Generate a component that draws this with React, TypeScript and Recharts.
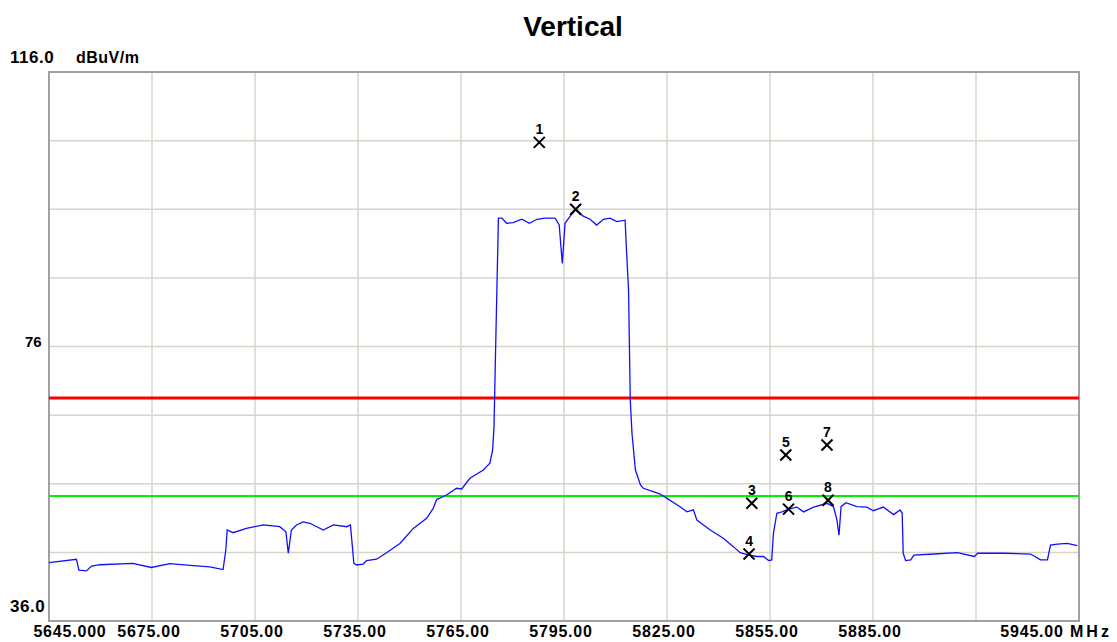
import React from 'react';
import {
  ComposedChart,
  Line,
  Scatter,
  XAxis,
  YAxis,
  CartesianGrid,
  ReferenceLine,
  ReferenceArea,
} from 'recharts';

const FONT = '"Liberation Sans", Arial, sans-serif';

// spectrum trace (MHz / dBuV/m)
const traceFreq = [
  5645.0, 5653.0, 5653.7, 5655.9, 5657.4, 5659.8, 5669.4, 5674.8, 5680.2, 5687.0,
  5691.8, 5695.7, 5696.5, 5696.9, 5698.6, 5702.5, 5707.4, 5712.2, 5714.0, 5714.7,
  5715.6, 5717.1, 5719.0, 5721.0, 5724.9, 5727.8, 5731.7, 5732.8, 5733.8, 5734.6,
  5736.5, 5737.5, 5740.4, 5743.3, 5747.2, 5751.1, 5755.0, 5756.9, 5757.9, 5760.8,
  5763.7, 5765.2, 5767.6, 5771.5, 5773.4, 5774.2, 5774.6, 5775.2, 5775.9, 5776.9,
  5778.3, 5780.2, 5782.7, 5784.9, 5787.1, 5789.5, 5792.4, 5793.6, 5794.5, 5795.3,
  5796.8, 5798.4, 5800.6, 5802.6, 5804.5, 5806.5, 5808.4, 5810.4, 5812.8, 5813.1,
  5813.8, 5814.3, 5814.8, 5815.8, 5817.3, 5818.1, 5821.0, 5823.0, 5824.9, 5828.8,
  5830.8, 5832.7, 5833.7, 5837.6, 5841.4, 5844.4, 5846.3, 5848.9, 5851.2, 5853.1,
  5854.6, 5855.5, 5856.0, 5857.0, 5858.5, 5860.4, 5862.8, 5864.8, 5867.7, 5871.6,
  5873.5, 5874.5, 5875.1, 5875.7, 5877.1, 5880.3, 5883.2, 5885.1, 5888.0, 5891.0,
  5892.9, 5893.5, 5893.8, 5894.5, 5896.0, 5896.9, 5902.8, 5909.6, 5914.5, 5915.5,
  5923.2, 5930.9, 5933.8, 5935.8, 5936.7, 5938.7, 5941.6, 5944.5,
];
const traceLevel = [
  44.5, 45.0, 43.4, 43.3, 44.0, 44.2, 44.4, 43.8, 44.35, 44.06,
  43.9, 43.5, 46.35, 49.26, 48.87, 49.5, 50.0, 49.74, 49.0, 45.87,
  49.26, 50.0, 50.43, 50.24, 49.26, 50.0, 49.74, 50.0, 44.4, 44.16,
  44.3, 44.8, 45.0, 45.95, 47.3, 49.5, 50.97, 52.4, 53.7, 54.36,
  55.34, 55.24, 56.8, 58.0, 59.0, 60.9, 64.1, 78.4, 94.7, 94.7,
  93.95, 94.04, 94.54, 93.95, 94.54, 94.7, 94.7, 93.7, 88.1, 93.95,
  95.0, 95.9, 95.0, 94.54, 93.7, 94.54, 94.7, 94.2, 94.4, 91.1,
  84.2, 68.2, 63.35, 58.0, 55.8, 55.34, 54.84, 54.5, 53.9, 52.66,
  51.9, 52.2, 50.7, 49.26, 48.05, 46.8, 45.95, 45.6, 45.4, 45.4,
  44.8, 44.9, 48.8, 51.7, 51.9, 52.3, 52.6, 51.9, 52.6, 53.15,
  52.66, 50.7, 48.5, 52.66, 53.24, 52.66, 52.6, 52.07, 52.6, 51.5,
  52.17, 51.7, 45.87, 44.8, 44.9, 45.6, 45.76, 45.95, 45.4, 45.87,
  45.87, 45.76, 44.9, 44.9, 47.07, 47.2, 47.3, 46.97,
];

// numbered markers
const markerFreq = [5787.8, 5798.4, 5849.7, 5848.9, 5859.6, 5860.4, 5871.6, 5871.9];
const markerLevel = [105.75, 96.0, 53.15, 45.76, 60.2, 52.3, 61.65, 53.6];
const markerLabel = ['1', '2', '3', '4', '5', '6', '7', '8'];

// limit lines
const limitRed = 68.5;
const limitGreen = 54.2;

const xTicks = [5645, 5675, 5705, 5735, 5765, 5795, 5825, 5855, 5885, 5915, 5945];
const yTicks = [36, 46, 56, 66, 76, 86, 96, 106, 116];

const traceData = traceFreq.map((f, i) => ({ f, v: traceLevel[i] }));
const markerData = markerFreq.map((f, i) => ({ f, v: markerLevel[i], label: markerLabel[i] }));

const labelStyle = { fontFamily: FONT, fontWeight: 700, fill: '#000' };

const XTick = (props: any) => {
  const { x, y, payload } = props;
  const v = payload.value as number;
  if (v === 5915) return <g />;
  let text = v.toFixed(2);
  let dx = -3;
  if (v === 5645) {
    text = v.toFixed(3);
    dx = 21;
  }
  if (v === 5945) dx = -47;
  return (
    <g>
      <text x={x + dx} y={y + 16} textAnchor="middle" fontSize={16} letterSpacing={0.8} {...labelStyle}>
        {text}
      </text>
      {v === 5945 && (
        <text x={x - 9} y={y + 16} textAnchor="start" fontSize={16} letterSpacing={3} {...labelStyle}>
          MHz
        </text>
      )}
    </g>
  );
};

const YTick = (props: any) => {
  const { y, payload } = props;
  const v = payload.value as number;
  if (v === 116) {
    return (
      <g>
        <text x={10} y={y - 9} fontSize={17} letterSpacing={0.5} {...labelStyle}>116.0</text>
        <text x={76} y={y - 9} fontSize={16} letterSpacing={0.5} {...labelStyle}>dBuV/m</text>
      </g>
    );
  }
  if (v === 76) {
    return <text x={25} y={y} fontSize={15} {...labelStyle}>76</text>;
  }
  if (v === 36) {
    return <text x={10} y={y - 9} fontSize={17} letterSpacing={0.5} {...labelStyle}>36.0</text>;
  }
  return <g />;
};

const MarkerShape = (props: any) => {
  const { cx, cy, payload } = props;
  const s = 5.5;
  return (
    <g>
      <line x1={cx - s} y1={cy - s} x2={cx + s} y2={cy + s} stroke="#000" strokeWidth={2} />
      <line x1={cx - s} y1={cy + s} x2={cx + s} y2={cy - s} stroke="#000" strokeWidth={2} />
      <text x={cx} y={cy - 8} textAnchor="middle" fontSize={14} {...labelStyle}>
        {payload.label}
      </text>
    </g>
  );
};

export default function App() {
  return (
    <div style={{ position: 'absolute', left: 0, top: 0, width: 1117, height: 642, background: '#fff' }}>
      <div
        style={{
          position: 'absolute',
          left: 0,
          top: 13,
          width: 1146,
          textAlign: 'center',
          fontFamily: FONT,
          fontWeight: 700,
          fontSize: 28,
          lineHeight: '28px',
        }}
      >
        Vertical
      </div>
      <ComposedChart width={1117} height={642} margin={{ top: 72, right: 38, bottom: 0, left: 0 }}>
        <CartesianGrid stroke="#d8d4cc" strokeWidth={1.5} />
        <XAxis
          type="number"
          dataKey="f"
          domain={[5645, 5945]}
          ticks={xTicks}
          interval={0}
          allowDataOverflow
          height={21}
          tickSize={0}
          tickMargin={0}
          axisLine={false}
          tickLine={false}
          tick={<XTick />}
        />
        <YAxis
          type="number"
          dataKey="v"
          domain={[36, 116]}
          ticks={yTicks}
          interval={0}
          allowDataOverflow
          width={49}
          tickSize={0}
          tickMargin={0}
          axisLine={false}
          tickLine={false}
          tick={<YTick />}
        />
        <ReferenceLine y={limitRed} stroke="#ff0000" strokeWidth={3} />
        <ReferenceLine y={limitGreen} stroke="#00f000" strokeWidth={2} />
        <Line
          data={traceData}
          dataKey="v"
          type="linear"
          stroke="#1010ff"
          strokeWidth={1.3}
          dot={false}
          isAnimationActive={false}
        />
        <Scatter data={markerData} dataKey="v" shape={<MarkerShape />} isAnimationActive={false} />
        <ReferenceArea x1={5645} x2={5945} y1={36} y2={116} fill="none" stroke="#a0a0a0" strokeWidth={2} />
      </ComposedChart>
    </div>
  );
}
